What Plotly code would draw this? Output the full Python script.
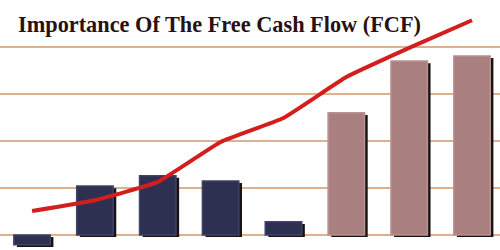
import plotly.graph_objects as go

categories = ["P1", "P2", "P3", "P4", "P5", "P6", "P7", "P8"]
bar_values = [-2.1, 10.4, 12.6, 11.5, 2.8, 26.0, 37.0, 38.1]
line_values = [5.1, 7.4, 11.3, 19.8, 24.9, 33.6, 39.8, 45.7]
bar_colors = ["#2e3052", "#2e3052", "#2e3052", "#2e3052", "#2e3052",
              "#a97f7f", "#a97f7f", "#a97f7f"]
edge_colors = ["#404366", "#404366", "#404366", "#404366", "#404366",
               "#b89393", "#b89393", "#b89393"]
title_text = "Importance Of The Free Cash Flow (FCF)"

x_idx = list(range(len(categories)))
bw = 0.58

fig = go.Figure()
# shadow
fig.add_trace(go.Bar(
    x=x_idx, y=bar_values, base=[-0.45] * len(x_idx),
    width=bw, offset=-bw / 2 + 0.05,
    marker=dict(color="#1a1212", line=dict(width=0)),
    hoverinfo="skip", showlegend=False,
))
fig.add_trace(go.Bar(
    x=x_idx, y=bar_values, width=bw, offset=-bw / 2,
    marker=dict(color=bar_colors, line=dict(color=edge_colors, width=1.5)),
    showlegend=False,
))
fig.add_trace(go.Scatter(
    x=x_idx, y=line_values, mode="lines",
    line=dict(color="#d41e1e", width=4, shape="spline", smoothing=0.35),
    showlegend=False,
))

fig.add_annotation(
    text="<b>" + title_text + "</b>", xref="paper", yref="paper",
    x=16 / 500, y=1 - 25 / 250, xanchor="left", yanchor="middle",
    showarrow=False,
    font=dict(family="Liberation Serif", size=22.3, color="#2a1010"),
)

fig.update_layout(
    width=500, height=250, margin=dict(l=0, r=0, t=0, b=0),
    paper_bgcolor="white", plot_bgcolor="white",
    barmode="overlay",
    xaxis=dict(range=[-0.51, 7.445], showgrid=False, showticklabels=False,
               zeroline=False, showline=False, ticks=""),
    yaxis=dict(range=[-3.2, 50], tickvals=[0, 10, 20, 30, 40],
               showgrid=True, gridcolor="#dfb08f", gridwidth=1.5,
               showticklabels=False, zeroline=False, showline=False, ticks=""),
)

fig.write_html("out.html")
